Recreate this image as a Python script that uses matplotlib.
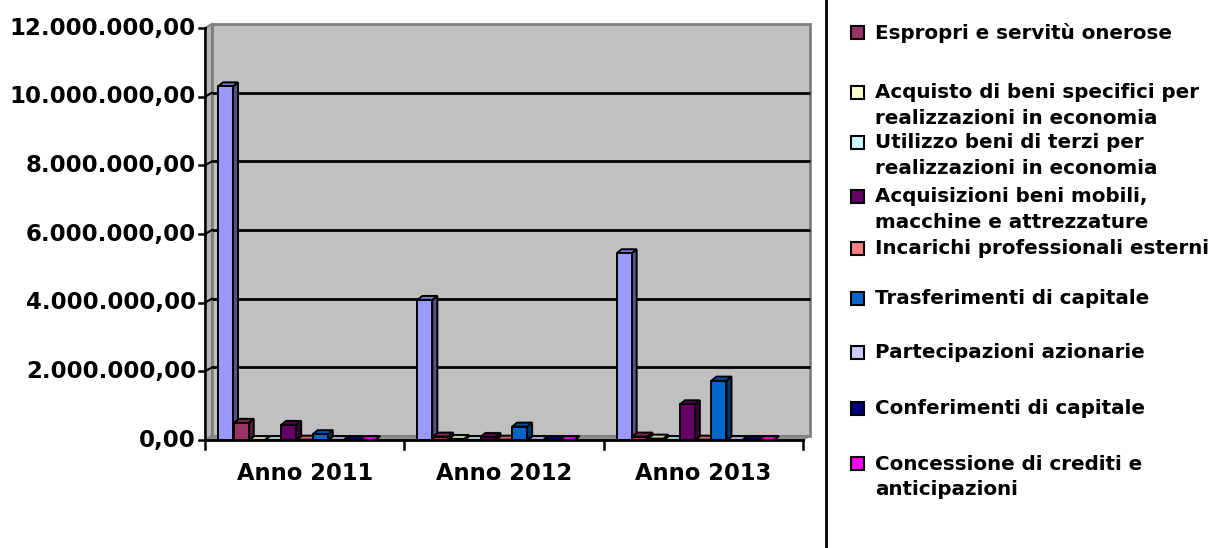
import matplotlib
matplotlib.use("Agg")
import matplotlib.pyplot as plt
from matplotlib.patches import Polygon, Rectangle
from matplotlib.colors import to_rgb

# ---- data ----
years = ["Anno 2011", "Anno 2012", "Anno 2013"]
series_names = [
    "",
    "Espropri e servitù onerose",
    "Acquisto di beni specifici per\nrealizzazioni in economia",
    "Utilizzo beni di terzi per\nrealizzazioni in economia",
    "Acquisizioni beni mobili,\nmacchine e attrezzature",
    "Incarichi professionali esterni",
    "Trasferimenti di capitale",
    "Partecipazioni azionarie",
    "Conferimenti di capitale",
    "Concessione di crediti e\nanticipazioni",
]
series_colors = ["#9999FF", "#993366", "#FFFFCC", "#CCFFFF", "#660066",
                 "#FF8080", "#0066CC", "#CCCCFF", "#000080", "#FF00FF"]
v_beni_immobili = [10_300_000, 4_080_000, 5_440_000]
v_espropri = [500_000, 100_000, 100_000]
v_acquisto = [0, 30_000, 40_000]
v_utilizzo = [0, 0, 0]
v_mobili = [440_000, 90_000, 1_040_000]
v_incarichi = [10_000, 10_000, 10_000]
v_trasferimenti = [170_000, 390_000, 1_730_000]
v_partecipazioni = [0, 0, 0]
v_conferimenti = [0, 0, 0]
v_concessione = [0, 0, 0]
series_values = [v_beni_immobili, v_espropri, v_acquisto, v_utilizzo, v_mobili,
                 v_incarichi, v_trasferimenti, v_partecipazioni, v_conferimenti,
                 v_concessione]
y_ticks = [0, 2_000_000, 4_000_000, 6_000_000, 8_000_000, 10_000_000, 12_000_000]

W, H = 1214, 548
fig = plt.figure(figsize=(W / 100, H / 100), dpi=100)
fig.patch.set_facecolor("white")

# front plane of the plot area, in pixels
L, B, PW, PH = 205, 108, 598, 412
ax = fig.add_axes([L / W, B / H, PW / W, PH / H])
ax.set_xlim(0, 3)
ax.set_ylim(0, 12_000_000)
ax.axis("off")

px_x = 3 / PW            # data units per pixel (x)
px_y = 12_000_000 / PH   # data units per pixel (y)

# depth of the chart box and of each column
WDX, WDY = 7 * px_x, 4 * px_y
BDX, BDY = 5 * px_x, 4 * px_y


def poly(pts, fc, ec="black", lw=1.0, z=1):
    p = Polygon(pts, closed=True, facecolor=fc, edgecolor=ec, linewidth=lw,
                zorder=z, clip_on=False, joinstyle="miter")
    ax.add_patch(p)


def shade(c, f):
    r, g, b = to_rgb(c)
    return (r * f, g * f, b * f)


ymax = 12_000_000
# back wall
poly([(WDX, WDY), (3 + WDX, WDY), (3 + WDX, ymax + WDY), (WDX, ymax + WDY)],
     "#C0C0C0", ec="#808080", lw=2.0, z=0.5)
# left side wall
poly([(0, 0), (WDX, WDY), (WDX, ymax + WDY), (0, ymax)],
     "#B4B4B4", ec="#808080", lw=1.5, z=0.6)
# floor
poly([(0, 0), (3, 0), (3 + WDX, WDY), (WDX, WDY)],
     "#8C8C8C", ec="#808080", lw=1.0, z=0.6)

# gridlines on the back and side walls
for t in y_ticks[1:-1]:
    ax.plot([WDX, 3 + WDX], [t + WDY, t + WDY], color="black", lw=2.0,
            zorder=0.8, clip_on=False, solid_capstyle="butt")
    ax.plot([0, WDX], [t, t + WDY], color="black", lw=1.5, zorder=0.8,
            clip_on=False)

# columns
bar_w = 15 / 199.33
step = 15.8 / 199.33
first = 13 / 199.33
for k in range(3):
    for i, (vals, col) in enumerate(zip(series_values, series_colors)):
        x0 = k + first + i * step
        x1 = x0 + bar_w
        h = vals[k]
        z = 2 + k * 20 + i
        # side face
        poly([(x1, 0), (x1 + BDX, BDY), (x1 + BDX, h + BDY), (x1, h)],
             shade(col, 0.55), lw=1.4, z=z)
        # top face
        poly([(x0, h), (x1, h), (x1 + BDX, h + BDY), (x0 + BDX, h + BDY)],
             shade(col, 0.78), lw=1.4, z=z)
        # front face
        poly([(x0, 0), (x1, 0), (x1, h), (x0, h)], col, lw=1.4, z=z)

# axes lines and ticks
ax.plot([0, 0], [0, ymax], color="black", lw=1.8, zorder=100, clip_on=False)
ax.plot([0, 3], [0, 0], color="black", lw=2.0, zorder=100, clip_on=False)
for t in y_ticks:
    ax.plot([-6 * px_x, 0], [t, t], color="black", lw=1.8, zorder=100,
            clip_on=False)
    lab = f"{t:,.2f}".replace(",", "X").replace(".", ",").replace("X", ".")
    ax.text(-9 * px_x, t, lab, ha="right", va="center", fontsize=16.5,
            fontweight="bold", family="DejaVu Sans")
for k in range(4):
    ax.plot([k, k], [0, -9 * px_y], color="black", lw=1.8, zorder=100,
            clip_on=False)
for k, y in enumerate(years):
    ax.text(k + 0.5, -34 * px_y, y, ha="center", va="center", fontsize=16.3,
            fontweight="bold", family="DejaVu Sans")

# legend panel, laid out in figure pixels
lax = fig.add_axes([0, 0, 1, 1])
lax.set_xlim(0, W)
lax.set_ylim(H, 0)
lax.axis("off")
lax.plot([826, 826], [0, H], color="black", lw=2.0)
legend_y = [33, 93, 143, 197, 249, 299, 353, 409, 464]
line_gap = 25.5
for name, col, y in zip(series_names[1:], series_colors[1:], legend_y):
    lax.add_patch(Rectangle((851, y - 7), 13, 13, facecolor=col,
                            edgecolor="black", linewidth=1.5))
    for j, line in enumerate(name.split("\n")):
        lax.text(875, y + j * line_gap, line, ha="left", va="center",
                 fontsize=14.3, fontweight="bold", family="DejaVu Sans")

fig.savefig("out.png", dpi=100)
